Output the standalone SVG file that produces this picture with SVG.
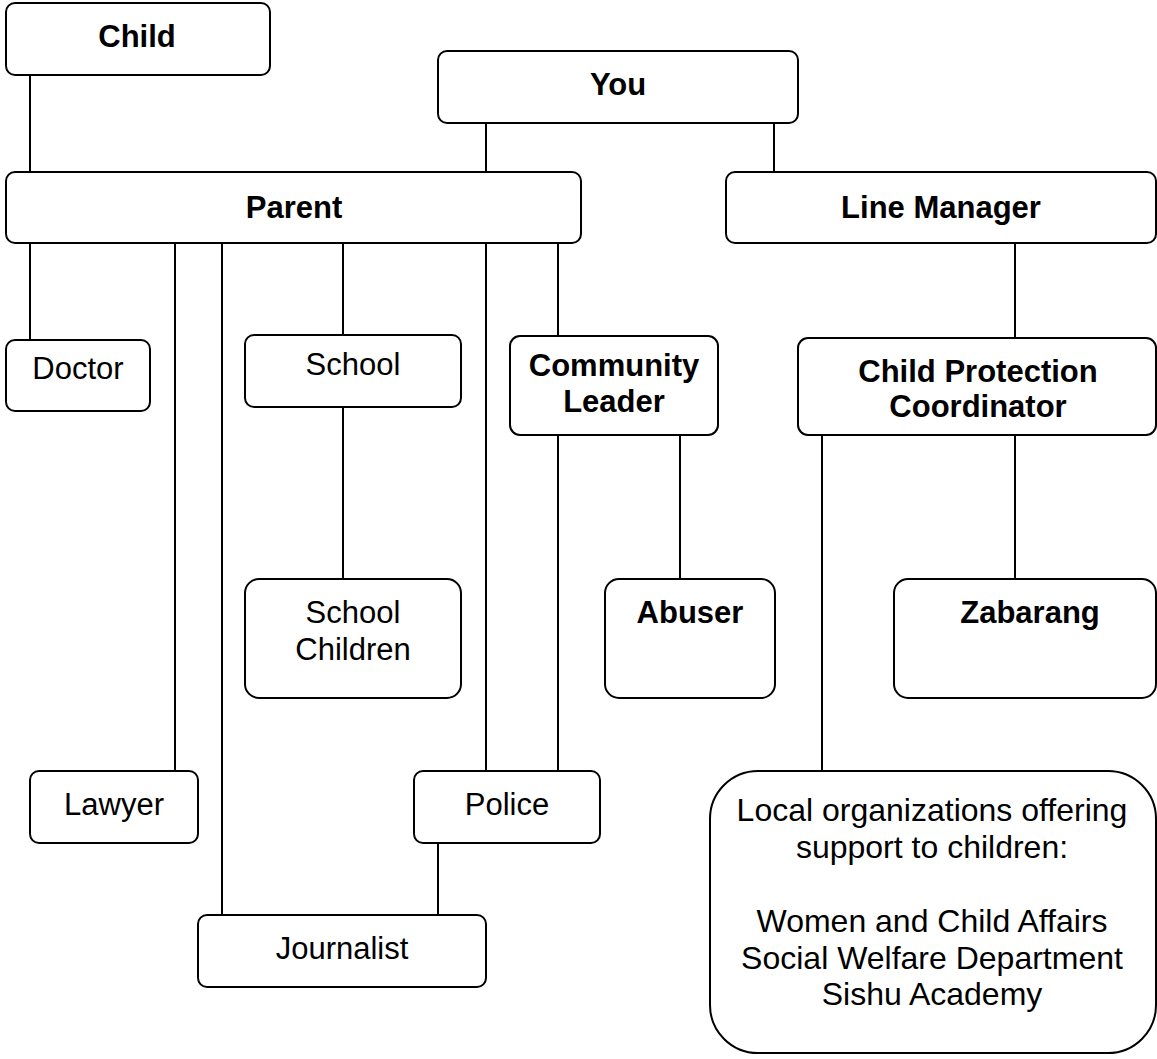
<svg xmlns="http://www.w3.org/2000/svg" width="1157" height="1059" viewBox="0 0 1157 1059">
  <style>
    .box { fill: #ffffff; stroke: #000000; stroke-width: 2; }
    .link { stroke: #000000; stroke-width: 2; fill: none; }
    .b { font-family: "Liberation Sans", Arial, sans-serif; font-weight: bold; font-size: 31px; fill: #000000; text-anchor: middle; }
    .r { font-family: "Liberation Sans", Arial, sans-serif; font-size: 31px; fill: #000000; text-anchor: middle; }
    .big { font-size: 32px; }
  </style>
  <rect x="0" y="0" width="1157" height="1059" fill="#ffffff"/>

  <!-- connectors -->
  <g id="connectors">
    <line class="link" x1="30" y1="75" x2="30" y2="172"/>
    <line class="link" x1="486" y1="123" x2="486" y2="172"/>
    <line class="link" x1="774" y1="123" x2="774" y2="172"/>
    <line class="link" x1="30" y1="243" x2="30" y2="340"/>
    <line class="link" x1="175" y1="243" x2="175" y2="771"/>
    <line class="link" x1="222" y1="243" x2="222" y2="915"/>
    <line class="link" x1="343" y1="243" x2="343" y2="335"/>
    <line class="link" x1="486" y1="243" x2="486" y2="771"/>
    <line class="link" x1="558" y1="243" x2="558" y2="336"/>
    <line class="link" x1="1015" y1="243" x2="1015" y2="338"/>
    <line class="link" x1="343" y1="407" x2="343" y2="579"/>
    <line class="link" x1="558" y1="435" x2="558" y2="771"/>
    <line class="link" x1="680" y1="435" x2="680" y2="579"/>
    <line class="link" x1="822" y1="435" x2="822" y2="771"/>
    <line class="link" x1="1015" y1="435" x2="1015" y2="579"/>
    <line class="link" x1="438" y1="843" x2="438" y2="915"/>
  </g>

  <g id="child">
    <rect class="box" x="6" y="3" width="264" height="72" rx="9"/>
    <text class="b" x="137" y="47">Child</text>
  </g>
  <g id="you">
    <rect class="box" x="438" y="51" width="360" height="72" rx="9"/>
    <text class="b" x="618" y="95">You</text>
  </g>
  <g id="parent">
    <rect class="box" x="6" y="172" width="575" height="71" rx="9"/>
    <text class="b" x="294" y="218">Parent</text>
  </g>
  <g id="line-manager">
    <rect class="box" x="726" y="172" width="430" height="71" rx="9"/>
    <text class="b" x="941" y="218">Line Manager</text>
  </g>
  <g id="doctor">
    <rect class="box" x="6" y="340" width="144" height="71" rx="9"/>
    <text class="r" x="78" y="379">Doctor</text>
  </g>
  <g id="school">
    <rect class="box" x="245" y="335" width="216" height="72" rx="9"/>
    <text class="r" x="353" y="375">School</text>
  </g>
  <g id="community-leader">
    <rect class="box" x="510" y="336" width="208" height="99" rx="10"/>
    <text class="b" x="614" y="376">Community</text>
    <text class="b" x="614" y="412">Leader</text>
  </g>
  <g id="child-protection-coordinator">
    <rect class="box" x="798" y="338" width="358" height="97" rx="10"/>
    <text class="b" x="978" y="382">Child Protection</text>
    <text class="b" x="978" y="417">Coordinator</text>
  </g>
  <g id="school-children">
    <rect class="box" x="245" y="579" width="216" height="119" rx="14"/>
    <text class="r" x="353" y="623">School</text>
    <text class="r" x="353" y="660">Children</text>
  </g>
  <g id="abuser">
    <rect class="box" x="605" y="579" width="170" height="119" rx="14"/>
    <text class="b" x="690" y="623">Abuser</text>
  </g>
  <g id="zabarang">
    <rect class="box" x="894" y="579" width="262" height="119" rx="14"/>
    <text class="b" x="1030" y="623">Zabarang</text>
  </g>
  <g id="lawyer">
    <rect class="box" x="30" y="771" width="168" height="72" rx="9"/>
    <text class="r" x="114" y="815">Lawyer</text>
  </g>
  <g id="police">
    <rect class="box" x="414" y="771" width="186" height="72" rx="9"/>
    <text class="r" x="507" y="815">Police</text>
  </g>
  <g id="journalist">
    <rect class="box" x="198" y="915" width="288" height="72" rx="9"/>
    <text class="r" x="342" y="959">Journalist</text>
  </g>
  <g id="local-organizations">
    <rect class="box" x="710" y="771" width="446" height="282" rx="48"/>
    <text class="r big" x="932" y="821">Local organizations offering</text>
    <text class="r big" x="932" y="858">support to children:</text>
    <text class="r big" x="932" y="932">Women and Child Affairs</text>
    <text class="r big" x="932" y="969">Social Welfare Department</text>
    <text class="r big" x="932" y="1005">Sishu Academy</text>
  </g>
</svg>
